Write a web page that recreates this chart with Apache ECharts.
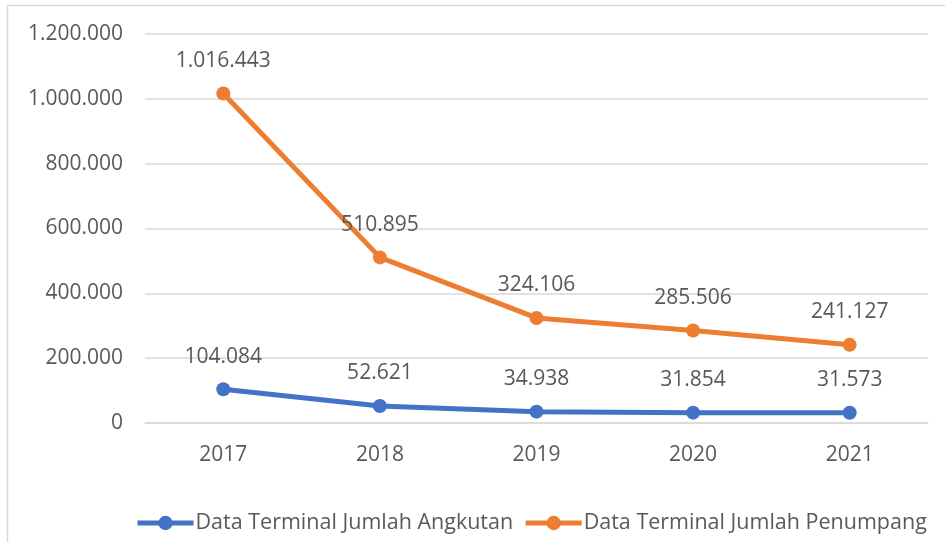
<!DOCTYPE html>
<html>
<head>
<meta charset="utf-8">
<script src="https://cdn.jsdelivr.net/npm/echarts@6/dist/echarts.min.js"></script>
<style>
  html, body { margin: 0; padding: 0; background: #fff; }
  #chart { width: 945px; height: 542px; }
</style>
</head>
<body>
<div id="chart"></div>
<script>
// Years on the category axis
const years = ['2017', '2018', '2019', '2020', '2021'];
// Terminal data series
const angkutan = [104084, 52621, 34938, 31854, 31573];
const penumpang = [1016443, 510895, 324106, 285506, 241127];
const seriesNames = ['Data Terminal Jumlah Angkutan', 'Data Terminal Jumlah Penumpang'];

const FONT = '"Open Sans", sans-serif';
const TEXT = '#595959';

// Indonesian style thousands separator: 1.200.000
function fmt(v) {
  return String(Math.round(v)).replace(/\B(?=(\d{3})+(?!\d))/g, '.');
}

const chart = echarts.init(document.getElementById('chart'), null, { renderer: 'canvas' });

function lineSeries(name, data, color) {
  return {
    name: name,
    type: 'line',
    data: data,
    symbol: 'circle',
    symbolSize: 14,
    lineStyle: { width: 5, color: color },
    itemStyle: { color: color },
    label: {
      show: true,
      position: 'top',
      distance: 15,
      color: TEXT,
      fontFamily: FONT,
      fontSize: 21,
      formatter: p => fmt(p.value)
    },
    emphasis: { disabled: true },
    animation: false
  };
}

chart.setOption({
  backgroundColor: '#fff',
  animation: false,
  textStyle: { fontFamily: FONT },
  graphic: [{
    type: 'rect',
    shape: { x: 7.5, y: 5.5, width: 1000, height: 700 },
    style: { fill: 'none', stroke: '#d9d9d9', lineWidth: 1.5 },
    silent: true,
    z: -10
  }],
  grid: { left: 145, right: 17, top: 34, bottom: 119 },
  xAxis: {
    type: 'category',
    data: years,
    boundaryGap: true,
    axisLine: { show: true, lineStyle: { color: '#d9d9d9', width: 1.5 } },
    axisTick: { show: false },
    axisLabel: { color: TEXT, fontFamily: FONT, fontSize: 21, margin: 22 }
  },
  yAxis: {
    type: 'value',
    min: 0,
    max: 1200000,
    interval: 200000,
    axisLine: { show: false },
    axisTick: { show: false },
    splitLine: { lineStyle: { color: '#d9d9d9', width: 1.5 } },
    axisLabel: { color: TEXT, fontFamily: FONT, fontSize: 21, margin: 22, formatter: fmt }
  },
  legend: {
    bottom: 3,
    left: 130,
    itemWidth: 56,
    itemHeight: 18,
    itemGap: 10,
    lineStyle: { width: 5 },
    textStyle: { color: TEXT, fontFamily: FONT, fontSize: 21.5, padding: [0, 0, 0, -3] },
    data: seriesNames
  },
  series: [
    lineSeries(seriesNames[0], angkutan, '#4472C4'),
    lineSeries(seriesNames[1], penumpang, '#ED7D31')
  ]
});
</script>
</body>
</html>
